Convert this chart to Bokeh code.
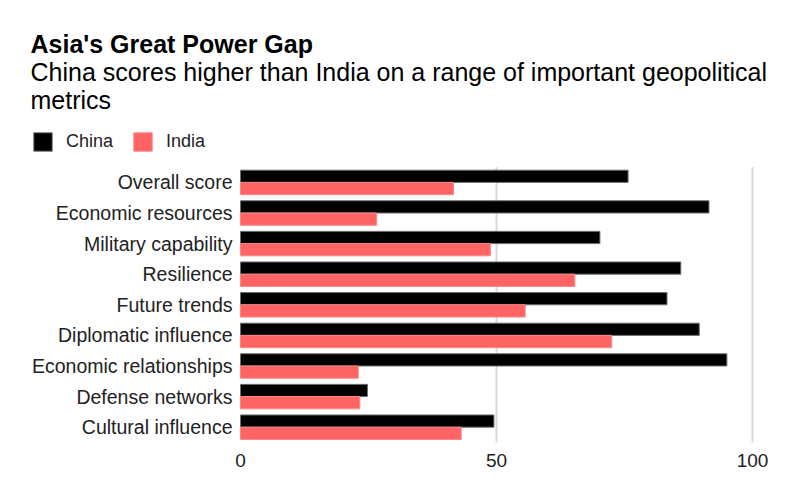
from bokeh.plotting import figure
from bokeh.models import (ColumnDataSource, Range1d, FixedTicker,
                          Label, Legend, LegendItem)
from bokeh.core.properties import value
from bokeh.transform import dodge
from bokeh.embed import file_html
from bokeh.resources import INLINE

categories = ["Overall score", "Economic resources", "Military capability",
              "Resilience", "Future trends", "Diplomatic influence",
              "Economic relationships", "Defense networks", "Cultural influence"]
china = [75.7, 91.5, 70.2, 86.0, 83.3, 89.6, 95.0, 24.8, 49.5]
india = [41.6, 26.6, 48.8, 65.3, 55.6, 72.5, 23.0, 23.3, 43.1]
x_ticks = [0, 50, 100]
grid_ticks = [50, 100]
series = ["China", "India"]
colors = ["black", "#ff6464"]

FONT = "Liberation Sans"
TXT = "#222222"

# layout constants (pixels)
W, H = 792, 495
ZERO_PX = 240          # canvas x of value 0
PX_PER_UNIT = 5.12     # horizontal scale
BAND = 30.6            # row pitch
BOTTOM = 442           # canvas y of frame bottom
n = len(categories)

src = ColumnDataSource(dict(cat=categories, idx=list(range(n)),
                            china=china, india=india))

p = figure(width=W, height=H,
           x_range=Range1d(-ZERO_PX / PX_PER_UNIT, (W - ZERO_PX) / PX_PER_UNIT),
           y_range=Range1d(n - 0.5, n - 0.5 - BOTTOM / BAND),
           output_backend="svg", toolbar_location=None,
           min_border_left=0, min_border_right=0,
           min_border_top=0, min_border_bottom=H - BOTTOM,
           y_axis_location=None)
p.outline_line_color = None
p.grid.visible = False

# gridlines restricted to the bar area
gsrc = ColumnDataSource(dict(x=grid_ticks, y0=[-0.5] * len(grid_ticks),
                             y1=[n - 0.5] * len(grid_ticks)))
p.segment(x0="x", y0="y0", x1="x", y1="y1", source=gsrc,
          line_color="#d9d9d9", line_width=2)

r1 = p.hbar(y=dodge("idx", -0.2), left=0, right="china",
            height=0.40, fill_color=colors[0], line_color="#707070",
            line_width=1, source=src)
r2 = p.hbar(y=dodge("idx", 0.2), left=0, right="india",
            height=0.40, fill_color=colors[1], line_color="#ff8585",
            line_width=1, source=src)

# category labels
p.text(x=0, y="idx", text="cat", source=src, x_offset=-8,
       text_align="right", text_baseline="middle",
       text_font=value(FONT), text_font_size=value("19.5px"), text_color=TXT)

ax = p.xaxis[0]
ax.ticker = FixedTicker(ticks=x_ticks)
ax.axis_line_color = None
ax.major_tick_line_color = None
ax.minor_tick_line_color = None
ax.major_tick_in = 0
ax.major_tick_out = 0
ax.major_label_text_font = FONT
ax.major_label_text_font_size = "19px"
ax.major_label_text_color = TXT
ax.major_label_standoff = 11

def lab(text, cx, cy, size, bold=False):
    p.add_layout(Label(x=cx, y=BOTTOM - cy, x_units="screen", y_units="screen",
                       text=text, text_font=FONT, text_font_size=size,
                       text_font_style="bold" if bold else "normal",
                       text_color="black", text_baseline="alphabetic"))

lab("Asia's Great Power Gap", 30, 43, "25px", bold=True)
lab("China scores higher than India on a range of important geopolitical", 30, 71, "25px")
lab("metrics", 30, 99.5, "25px")

legend = Legend(items=[LegendItem(label=s, renderers=[r])
                       for s, r in zip(series, [r1, r2])],
                location=(31, BOTTOM - 153), orientation="horizontal",
                glyph_width=23, glyph_height=23, label_standoff=12, spacing=18,
                padding=0, margin=0, border_line_color=None,
                background_fill_alpha=0, label_text_font=FONT,
                label_text_font_size="18px", label_text_color=TXT)
p.add_layout(legend)

open("out.html", "w").write(file_html(p, INLINE))
